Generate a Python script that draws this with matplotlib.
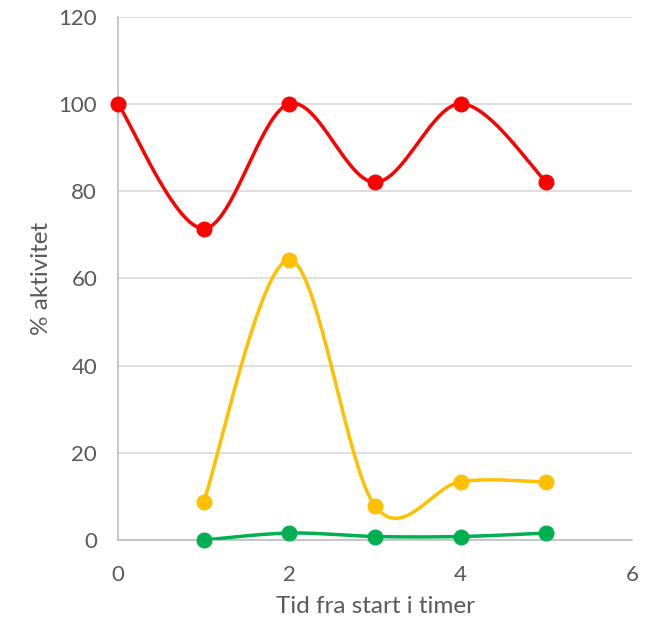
import matplotlib.pyplot as plt
import numpy as np

# activity (%) over time since start, hours
t_red = [0, 1, 2, 3, 4, 5]
red = [100, 71.4, 100, 82, 100, 82]
t_yellow = [1, 2, 3, 4, 5]
yellow = [8.7, 64.2, 7.8, 13.4, 13.3]
t_green = [1, 2, 3, 4, 5]
green = [0, 1.6, 0.8, 0.8, 1.6]

x_ticks = [0, 2, 4, 6]
y_ticks = [0, 20, 40, 60, 80, 100, 120]

plt.rcParams['font.family'] = ['Lato', 'DejaVu Sans']


def smooth(xs, ys, n=40):
    # Catmull-Rom style bezier smoothing (like a spreadsheet "smoothed line")
    p = np.column_stack([xs, ys]).astype(float)
    pts = []
    for i in range(len(p) - 1):
        p0 = p[i - 1] if i > 0 else p[i]
        p3 = p[i + 2] if i + 2 < len(p) else p[i + 1]
        c1 = p[i] + (p[i + 1] - p0) / 6
        c2 = p[i + 1] - (p3 - p[i]) / 6
        s = np.linspace(0, 1, n)[:, None]
        seg = ((1 - s) ** 3 * p[i] + 3 * (1 - s) ** 2 * s * c1
               + 3 * (1 - s) * s ** 2 * c2 + s ** 3 * p[i + 1])
        pts.append(seg if i == 0 else seg[1:])
    pts = np.vstack(pts)
    return pts[:, 0], pts[:, 1]


fig = plt.figure(figsize=(6.57, 6.28), dpi=100)
ax = fig.add_axes([0.1796, 0.1401, 0.7824, 0.8336])

for xs, ys, col in [(t_red, red, '#ff0000'),
                    (t_yellow, yellow, '#ffc000'),
                    (t_green, green, '#00b050')]:
    sx, sy = smooth(xs, ys)
    ax.plot(sx, sy, color=col, lw=2.5, solid_capstyle='round', zorder=3)
    ax.plot(xs, ys, 'o', color=col, ms=10.5, zorder=4, clip_on=False)

ax.set_xlim(0, 6)
ax.set_ylim(0, 120)
ax.set_xticks(x_ticks)
ax.set_yticks(y_ticks)
ax.grid(axis='y', color='#d9d9d9', lw=1.2)
ax.set_axisbelow(True)
for side in ['top', 'right']:
    ax.spines[side].set_visible(False)
for side in ['left', 'bottom']:
    ax.spines[side].set_color('#bfbfbf')
    ax.spines[side].set_linewidth(1.2)
ax.tick_params(length=0, labelsize=16, labelcolor='#595959')
ax.tick_params(axis='x', pad=18)
ax.tick_params(axis='y', pad=15)

ax.set_xlabel('Tid fra start i timer', fontsize=17.5, color='#595959', labelpad=8)
ax.set_ylabel('% aktivitet', fontsize=17.5, color='#595959', labelpad=5)

plt.savefig('out.png', dpi=100)
